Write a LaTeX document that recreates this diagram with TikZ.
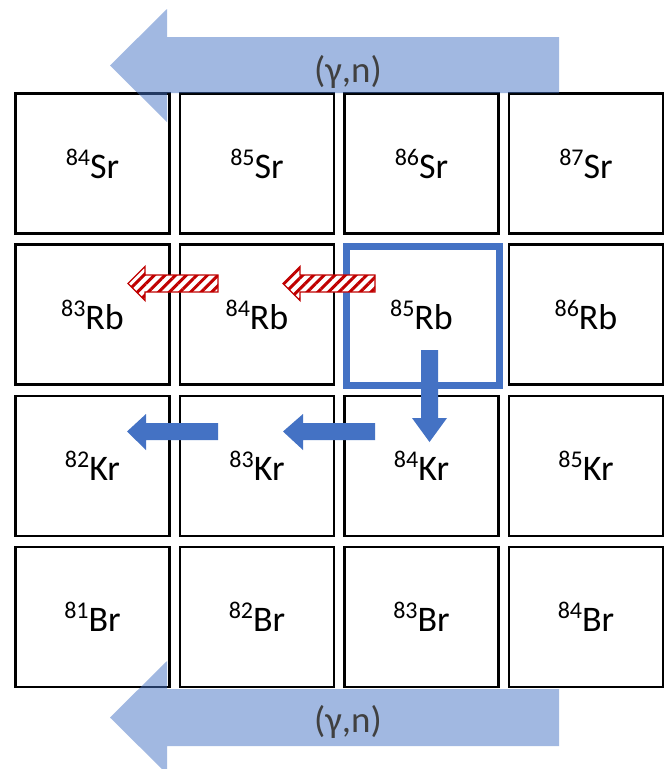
\documentclass[tikz,border=0pt]{standalone}
\usepackage{fontspec}
\setmainfont{Carlito}
\usetikzlibrary{patterns.meta}
\definecolor{accent}{HTML}{4472C4}
\definecolor{hatchred}{HTML}{C00000}
\definecolor{labelgray}{HTML}{404040}
% isotope label: raised mass number followed by the element symbol
\newcommand{\iso}[2]{{\fontsize{24}{24}\selectfont\raisebox{13pt}{#1}}#2}
\tikzset{
  isobox/.style={draw=black, line width=2.5pt, fill=white, minimum width=154pt,
    minimum height=140pt, inner sep=0pt, font=\fontsize{36}{36}\selectfont},
  beam/.style={fill=accent, fill opacity=0.5, draw=none},
  beamlabel/.style={text=labelgray, font=\fontsize{37}{37}\selectfont, inner sep=0pt},
  decayarrow/.style={fill=accent, draw=none},
  hatcharrow/.style={draw=hatchred, line width=1.3pt, fill=white,
    postaction={pattern={Lines[angle=45,distance=7.5pt,line width=3pt]}, pattern color=hatchred}},
  targetbox/.style={draw=accent, line width=6.5pt}
}
\begin{document}
\begin{tikzpicture}[x=1pt, y=-1pt]
\useasboundingbox (0,0) rectangle (667,769);
\clip (0,0) rectangle (667,769);
\fill[white] (0,0) rectangle (667,769);

% chart of nuclides
\foreach \name/\mass/\el/\c/\r in {
  Sr84/84/Sr/0/0, Sr85/85/Sr/1/0, Sr86/86/Sr/2/0, Sr87/87/Sr/3/0,
  Rb83/83/Rb/0/1, Rb84/84/Rb/1/1, Rb85/85/Rb/2/1, Rb86/86/Rb/3/1,
  Kr82/82/Kr/0/2, Kr83/83/Kr/1/2, Kr84/84/Kr/2/2, Kr85/85/Kr/3/2,
  Br81/81/Br/0/3, Br82/82/Br/1/3, Br83/83/Br/2/3, Br84/84/Br/3/3}
  \node[isobox] (\name) at ({92.5+164.5*\c},{163.5+151.2*\r}) {\iso{\mass}{\el}};

% starting nucleus
\draw[targetbox] (346.5,246.5) rectangle (499.5,385.5);

% photoneutron beams
\path[beam] (559,37) -- (167,37) -- (167,9) -- (110,65.5) -- (167,122)
  -- (167,93) -- (559,93) -- cycle;
\node[beamlabel] (gnTop) at (348,72) {(γ,n)};
\path[beam] (559,689) -- (167,689) -- (167,661) -- (110,717.5) -- (167,774)
  -- (167,746) -- (559,746) -- cycle;
\node[beamlabel] (gnBot) at (348,722) {(γ,n)};

% hatched arrows along the Rb row
\draw[hatcharrow] (375,275) -- (300,275) -- (300,266.5) -- (283,283.5) -- (300,300.5)
  -- (300,292) -- (375,292) -- cycle;
\draw[hatcharrow] (218,275) -- (145,275) -- (145,266.5) -- (128,283.5) -- (145,300.5)
  -- (145,292) -- (218,292) -- cycle;

% decay path 85Rb -> 84Kr -> 83Kr -> 82Kr
\path[decayarrow] (421,350) -- (438,350) -- (438,418) -- (447,418) -- (429.5,442)
  -- (412,418) -- (421,418) -- cycle;
\path[decayarrow] (375,423) -- (303,423) -- (303,414) -- (283,431.5) -- (303,450)
  -- (303,440) -- (375,440) -- cycle;
\path[decayarrow] (218,423) -- (146,423) -- (146,414) -- (127,431.5) -- (146,450)
  -- (146,440) -- (218,440) -- cycle;
\end{tikzpicture}
\end{document}
